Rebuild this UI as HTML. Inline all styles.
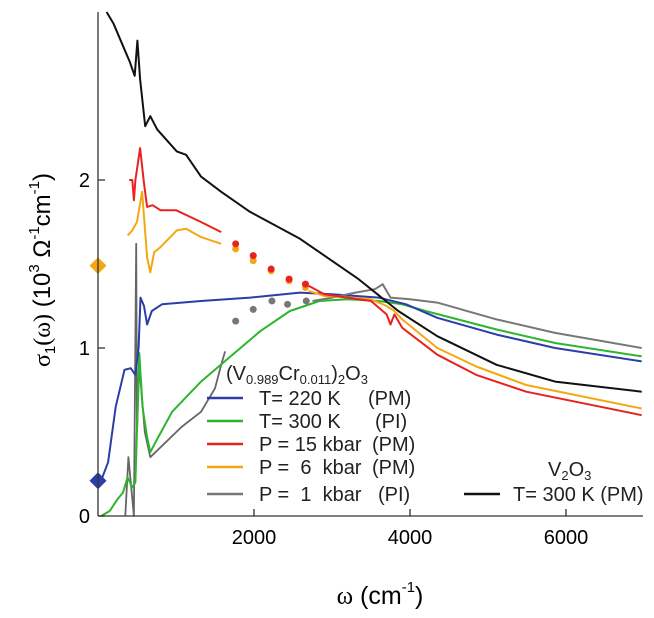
<!DOCTYPE html>
<html><head><meta charset="utf-8"><style>
body{margin:0;background:#fff;}
svg{display:block;font-family:"Liberation Sans",sans-serif;}
</style></head><body>
<svg id="chart" width="654" height="618" viewBox="0 0 654 618">
<g id="marks"></g>
<g stroke="#333" stroke-width="1.3" fill="none">
<line x1="98" y1="12" x2="98" y2="516"/>
<line x1="98" y1="516" x2="643" y2="516"/>
</g>
<g id="ticks"></g>
<text x="380" y="604" font-size="25" text-anchor="middle"><tspan font-family="Liberation Serif">ω</tspan> (cm<tspan dy="-12" font-size="15">-1</tspan><tspan dy="12">)</tspan></text>
<text transform="translate(50,270) rotate(-90)" font-size="24" text-anchor="middle"><tspan font-family="Liberation Serif">σ</tspan><tspan font-size="15" dy="5">1</tspan><tspan dy="-5" font-family="Liberation Serif">(ω)</tspan> (10<tspan dy="-11" font-size="15">3</tspan><tspan dy="11"> Ω</tspan><tspan dy="-11" font-size="15">-1</tspan><tspan dy="11">cm</tspan><tspan dy="-11" font-size="15">-1</tspan><tspan dy="11">)</tspan></text>
<g font-size="20" fill="#222">
<text x="226" y="380">(V<tspan font-size="13" dy="4">0.989</tspan><tspan dy="-4">Cr</tspan><tspan font-size="13" dy="4">0.011</tspan><tspan dy="-4">)</tspan><tspan font-size="13" dy="4">2</tspan><tspan dy="-4">O</tspan><tspan font-size="13" dy="4">3</tspan></text>
<g><line x1="207" y1="398" x2="243" y2="398" stroke="#2b3ea8" stroke-width="2.5"/><text x="259" y="405">T= 220 K</text><text x="368" y="405">(PM)</text></g>
<g><line x1="207" y1="421" x2="243" y2="421" stroke="#2db52d" stroke-width="2.5"/><text x="259" y="428">T= 300 K</text><text x="375" y="428">(PI)</text></g>
<g><line x1="207" y1="444" x2="243" y2="444" stroke="#e8231f" stroke-width="2.5"/><text x="259" y="451">P = 15 kbar</text><text x="372" y="451">(PM)</text></g>
<g><line x1="207" y1="467" x2="243" y2="467" stroke="#f5a712" stroke-width="2.5"/><text x="259" y="474" xml:space="preserve">P =  6  kbar</text><text x="372" y="474">(PM)</text></g>
<g><line x1="207" y1="494" x2="243" y2="494" stroke="#777" stroke-width="2.5"/><text x="259" y="501" xml:space="preserve">P =  1  kbar</text><text x="378" y="501">(PI)</text></g>
<text x="548" y="476">V<tspan font-size="13" dy="4">2</tspan><tspan dy="-4">O</tspan><tspan font-size="13" dy="4">3</tspan></text>
<g><line x1="464" y1="494" x2="500" y2="494" stroke="#111" stroke-width="2.5"/><text x="513" y="501">T= 300 K (PM)</text></g>
</g>
</svg>
<script>
const xTicks=[2000,4000,6000];
const yTicks=[0,1,2];
const blackW=[110,200,300,410,440,470,505,540,605,670,760,1010,1130,1320,1580,1950,2590,3340,3850,4350,5110,5860,6970];
const blackS=[3.0,2.93,2.82,2.7,2.66,2.62,2.83,2.6,2.32,2.38,2.3,2.17,2.15,2.02,1.93,1.81,1.65,1.41,1.22,1.07,0.9,0.8,0.74];
const blueW=[40,130,227,340,420,480,520,545,590,630,690,820,1320,1950,2590,3000,3600,3950,4350,5110,5860,6970];
const blueS=[0.21,0.32,0.65,0.87,0.88,0.84,1.0,1.3,1.25,1.14,1.22,1.26,1.28,1.3,1.33,1.32,1.3,1.26,1.18,1.08,1.0,0.92];
const greenW=[40,150,250,320,380,440,480,530,570,630,670,750,950,1320,1700,2080,2460,2840,3200,3600,3900,4200,5110,5860,6970];
const greenS=[0,0.03,0.1,0.14,0.23,0.17,0.2,0.97,0.65,0.47,0.38,0.45,0.62,0.8,0.95,1.1,1.22,1.28,1.29,1.28,1.26,1.22,1.11,1.03,0.95];
const grayW1=[350,390,420,460,490,500,530,600,670,1070,1320,1500,1580,1630];
const grayS1=[0,0.35,0.2,0,1.62,0.5,0.9,0.5,0.35,0.53,0.62,0.76,0.9,0.98];
const grayDotW=[1765,1990,2230,2430,2670];
const grayDotS=[1.16,1.23,1.28,1.26,1.28];
const grayW2=[2750,3000,3300,3550,3650,3750,4000,4350,5110,5860,6970];
const grayS2=[1.28,1.3,1.33,1.35,1.38,1.3,1.29,1.27,1.17,1.09,1.0];
const redW1=[400,440,460,480,540,590,630,700,800,1000,1320,1580];
const redS1=[2.0,2.0,1.88,2.0,2.19,1.98,1.84,1.85,1.82,1.82,1.75,1.69];
const redDotW=[1765,1990,2220,2450,2660];
const redDotS=[1.62,1.55,1.47,1.41,1.38];
const redW2=[2700,2900,3200,3500,3700,3750,3800,3900,4350,4850,5490,6970];
const redS2=[1.37,1.32,1.3,1.28,1.2,1.14,1.2,1.12,0.96,0.84,0.74,0.6];
const orangeW1=[380,440,500,565,630,670,720,800,1010,1130,1320,1580];
const orangeS1=[1.67,1.7,1.75,1.93,1.54,1.45,1.57,1.6,1.7,1.71,1.66,1.62];
const orangeDotW=[1765,1990,2220,2450,2660];
const orangeDotS=[1.59,1.52,1.46,1.4,1.36];
const orangeW2=[2700,2900,3200,3500,3700,3800,3900,4350,4850,5490,6970];
const orangeS2=[1.34,1.31,1.3,1.29,1.25,1.22,1.17,1.0,0.89,0.78,0.64];
const diamondS=[1.49,0.21];
const diamondColors=['#f5a712','#2b3ea8'];

const NS='http://www.w3.org/2000/svg';
function X(w){return 98+w*0.078;}
function Y(s){return 516-s*168;}
const marks=document.getElementById('marks');
const ticks=document.getElementById('ticks');
function line(ws,ss,color,name,width){
  const p=document.createElementNS(NS,'polyline');
  p.setAttribute('points',ws.map((w,i)=>X(w).toFixed(1)+','+Y(ss[i]).toFixed(1)).join(' '));
  p.setAttribute('fill','none');p.setAttribute('stroke',color);p.setAttribute('stroke-width',width||2);
  p.setAttribute('stroke-linejoin','round');
  
  
  marks.appendChild(p);
}
function dots(ws,ss,color,name){
  ws.forEach((w,i)=>{
    const c=document.createElementNS(NS,'circle');
    c.setAttribute('cx',X(w));c.setAttribute('cy',Y(ss[i]));c.setAttribute('r',3.5);c.setAttribute('fill',color);
    
    
    marks.appendChild(c);
  });
}
line(grayW1,grayS1,'#666','series-1kbar-low',1.8);
line(greenW,greenS,'#2db52d','series-300k',2);
line(blueW,blueS,'#2b3ea8','series-220k',2);
line(grayW2,grayS2,'#777','series-1kbar-high',2);
dots(grayDotW,grayDotS,'#777','point-1kbar');
line(orangeW1,orangeS1,'#f5a712','series-6kbar-low',2);
line(orangeW2,orangeS2,'#f5a712','series-6kbar-high',2);
dots(orangeDotW,orangeDotS,'#f5a712','point-6kbar');
line(redW1,redS1,'#e8231f','series-15kbar-low',2);
line(redW2,redS2,'#e8231f','series-15kbar-high',2);
dots(redDotW,redDotS,'#e8231f','point-15kbar');
line(blackW,blackS,'#111','series-v2o3',2);
diamondS.forEach((s,i)=>{
  const d=document.createElementNS(NS,'rect');
  d.setAttribute('x',98-6);d.setAttribute('y',Y(s)-6);d.setAttribute('width',12);d.setAttribute('height',12);
  d.setAttribute('transform','rotate(45 98 '+Y(s)+')');d.setAttribute('fill',diamondColors[i]);
  
  
  marks.appendChild(d);
});
xTicks.forEach(t=>{
  const l=document.createElementNS(NS,'line');
  l.setAttribute('x1',X(t));l.setAttribute('x2',X(t));l.setAttribute('y1',516);l.setAttribute('y2',509);
  l.setAttribute('stroke','#333');l.setAttribute('stroke-width',1.3);
  
  
  ticks.appendChild(l);
  const tx=document.createElementNS(NS,'text');
  tx.setAttribute('x',X(t));tx.setAttribute('y',544);tx.setAttribute('font-size',20);tx.setAttribute('text-anchor','middle');
  tx.textContent=t;
  
  
  ticks.appendChild(tx);
});
yTicks.forEach(t=>{
  const l=document.createElementNS(NS,'line');
  l.setAttribute('x1',98);l.setAttribute('x2',105);l.setAttribute('y1',Y(t));l.setAttribute('y2',Y(t));
  l.setAttribute('stroke','#333');l.setAttribute('stroke-width',1.3);
  
  
  ticks.appendChild(l);
  const tx=document.createElementNS(NS,'text');
  tx.setAttribute('x',90);tx.setAttribute('y',Y(t)+7);tx.setAttribute('font-size',20);tx.setAttribute('text-anchor','end');
  tx.textContent=t;
  
  
  ticks.appendChild(tx);
});
</script>
</body></html>
